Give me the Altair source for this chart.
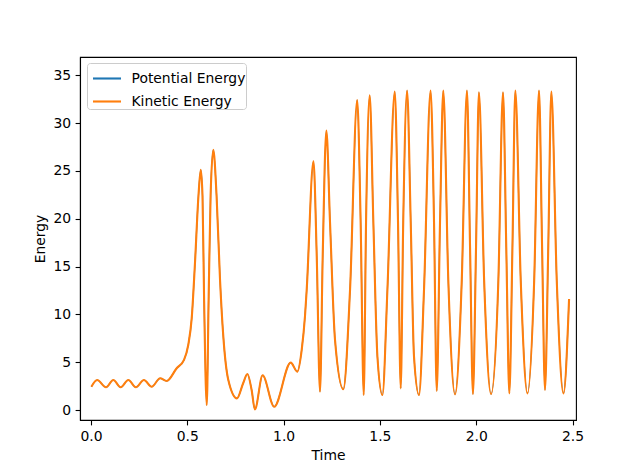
import altair as alt
import pandas as pd

time = [0.002, 0.032, 0.078, 0.116, 0.154, 0.194, 0.233, 0.275, 0.315, 0.359,
        0.393, 0.445, 0.483, 0.505, 0.523, 0.540, 0.558, 0.570, 0.579, 0.587,
        0.601, 0.611, 0.621, 0.635, 0.652, 0.670, 0.687, 0.713, 0.758, 0.790,
        0.812, 0.834, 0.851, 0.891, 0.951, 1.037, 1.071, 1.094, 1.111, 1.120,
        1.155, 1.172, 1.189, 1.203, 1.222, 1.241, 1.267, 1.310, 1.345, 1.382,
        1.400, 1.416, 1.428, 1.447, 1.466, 1.487, 1.513, 1.539, 1.577, 1.594,
        1.608, 1.621, 1.641, 1.660, 1.677, 1.703, 1.729, 1.763, 1.781, 1.795,
        1.812, 1.829, 1.855, 1.890, 1.925, 1.952, 1.968, 1.983, 1.999, 2.014,
        2.041, 2.077, 2.115, 2.139, 2.156, 2.172, 2.188, 2.203, 2.231, 2.266,
        2.301, 2.326, 2.342, 2.357, 2.374, 2.390, 2.418, 2.453, 2.482]

energy = [2.44, 3.14, 2.38, 3.14, 2.38, 3.14, 2.38, 3.14, 2.44, 3.32,
          3.04, 4.37, 5.24, 6.8, 9.6, 15.4, 22.4, 25.1, 22.4, 11.9,
          0.52, 11.9, 22.4, 27.2, 22.4, 13.6, 7.7, 3.14, 1.22, 2.8,
          3.77, 2.1, 0.07, 3.63, 0.35, 4.96, 4.02, 6.3, 9.8, 12.6,
          26.0, 16.1, 1.92, 16.1, 29.2, 19.6, 7.3, 2.17, 12.6, 32.4,
          19.6, 1.57, 19.6, 32.9, 19.6, 5.6, 1.57, 12.6, 33.3, 19.6,
          2.27, 19.6, 33.4, 19.6, 5.6, 1.57, 12.6, 33.4, 19.6, 2.0,
          19.6, 33.4, 13.6, 1.64, 13.6, 33.4, 17.0, 1.67, 17.0, 33.2,
          13.6, 1.67, 13.6, 33.2, 17.0, 1.74, 17.0, 33.4, 13.6, 1.74,
          13.6, 33.4, 17.0, 2.1, 17.0, 33.3, 13.6, 1.74, 11.6]

series_names = ["Potential Energy", "Kinetic Energy"]
series_colors = ["#1f77b4", "#ff7f0e"]
x_ticks = [0.0, 0.5, 1.0, 1.5, 2.0, 2.5]
y_ticks = [0, 5, 10, 15, 20, 25, 30, 35]

FONT = "DejaVu Sans"

color_scale = alt.Scale(domain=series_names, range=series_colors)
x_enc = alt.X("Time:Q", scale=alt.Scale(domain=[-0.057, 2.518], nice=False, zero=False),
              axis=alt.Axis(values=x_ticks, format=".1f", title="Time"))
y_enc = alt.Y("Energy:Q", scale=alt.Scale(domain=[-1.04, 36.9], nice=False, zero=False),
              axis=alt.Axis(values=y_ticks, format="d", title="Energy"))

def layer(name, width):
    d = pd.DataFrame({"Time": time, "Energy": energy, "Series": name})
    return alt.Chart(d).mark_line(strokeWidth=width, interpolate="monotone").encode(
        x=x_enc,
        y=y_enc,
        color=alt.Color("Series:N", scale=color_scale,
                        legend=alt.Legend(orient="none", legendX=7, legendY=6, title=None)),
    )

chart = alt.layer(layer(series_names[0], 1.2), layer(series_names[1], 2.1)).properties(
    width=496,
    height=363,
    autosize=alt.AutoSizeParams(type="none"),
    padding={"left": 72, "top": 49, "right": 56, "bottom": 44},
).configure_view(
    stroke="black", strokeWidth=1.1
).configure_axis(
    grid=False,
    domainColor="black", domainWidth=1.1,
    tickColor="black", tickWidth=1.1, tickSize=4.9,
    labelFont=FONT, labelFontSize=13.9, labelColor="black", labelPadding=4.5,
    titleFont=FONT, titleFontSize=13.9, titleColor="black", titleFontWeight="normal",
    titlePadding=5,
).configure_legend(
    labelFont=FONT, labelFontSize=13.9, labelColor="black",
    symbolType="stroke", symbolSize=784, symbolStrokeWidth=2.1,
    strokeColor="#cccccc", fillColor="white", cornerRadius=3,
    padding=0, symbolOffset=4.5, labelOffset=9, rowPadding=0,
)

chart.save("out.html", embed_options={"renderer": "svg", "actions": False})
